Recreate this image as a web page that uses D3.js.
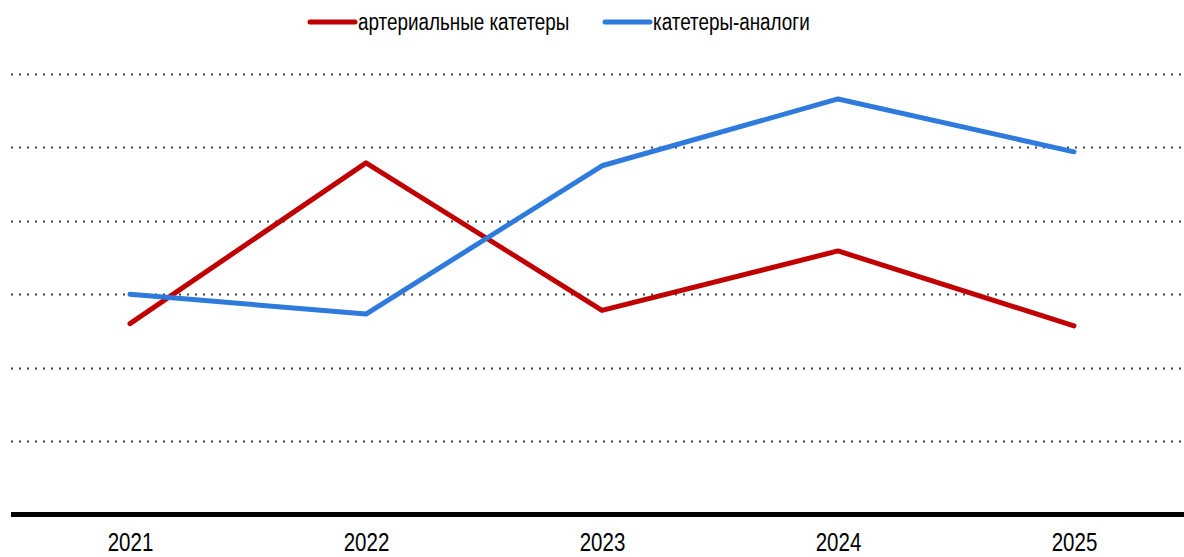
<!DOCTYPE html>
<html>
<head>
<meta charset="utf-8">
<script src="https://cdn.jsdelivr.net/npm/d3@7"></script>
<style>
  body { margin: 0; background: #fff; }
  svg { display: block; font-family: "Liberation Sans", Arial, sans-serif; }
</style>
</head>
<body>
<div id="chart"></div>
<script>
// chart data
var years = ["2021", "2022", "2023", "2024", "2025"];
var arterial = [2.6, 4.79, 2.78, 3.59, 2.57];
var analogs = [3.0, 2.73, 4.75, 5.66, 4.94];
var gridTicks = [1, 2, 3, 4, 5, 6];
var seriesNames = ["артериальные катетеры", "катетеры-аналоги"];
var seriesColors = ["#c00000", "#2e7bdd"];

var svgWidth = 1184;
var svgHeight = 557;
// no narrow font installed, so squeeze the text horizontally
var squeeze = 0.82;

var svg = d3.select("#chart").append("svg")
  .attr("width", svgWidth)
  .attr("height", svgHeight);

// scales
var x = d3.scalePoint()
  .domain(years)
  .range([12, 1192])
  .padding(0.5);

var y = d3.scaleLinear()
  .domain([0, 6])
  .range([514.5, 74]);

// dotted gridlines
svg.append("g")
  .selectAll("line")
  .data(gridTicks)
  .enter()
  .append("line")
  .attr("x1", 11)
  .attr("x2", 1184)
  .attr("y1", d => Math.round(y(d)) + 0.5)
  .attr("y2", d => Math.round(y(d)) + 0.5)
  .attr("stroke", "#444")
  .attr("stroke-width", 2)
  .attr("stroke-dasharray", "2 6");

// x axis
var xAxis = svg.append("g")
  .attr("transform", `translate(0, ${y(0)})`)
  .call(d3.axisBottom(x).tickSize(0));

xAxis.select(".domain")
  .attr("d", "M11,0H1184")
  .attr("stroke", "#000")
  .attr("stroke-width", 5);

xAxis.selectAll("text")
  .attr("y", 37)
  .attr("dy", null)
  .attr("transform", `scale(${squeeze},1)`)
  .attr("font-family", "'Liberation Sans', Arial, sans-serif")
  .attr("font-size", 25)
  .attr("fill", "#000");

// lines
var line = d3.line()
  .x((d, i) => x(years[i]))
  .y(d => y(d));

[arterial, analogs].forEach(function(values, i) {
  svg.append("path")
    .datum(values)
    .attr("d", line)
    .attr("fill", "none")
    .attr("stroke", seriesColors[i])
    .attr("stroke-width", 5)
    .attr("stroke-linecap", "round")
    .attr("stroke-linejoin", "round");
});

// legend
var legendX = [308, 603];
var legend = svg.append("g")
  .selectAll("g")
  .data(seriesNames)
  .enter()
  .append("g")
  .attr("transform", (d, i) => `translate(${legendX[i]}, 22)`);

legend.append("line")
  .attr("x1", 2)
  .attr("x2", 47)
  .attr("stroke", (d, i) => seriesColors[i])
  .attr("stroke-width", 5)
  .attr("stroke-linecap", "round");

legend.append("text")
  .attr("transform", `translate(50,0) scale(${squeeze},1)`)
  .attr("dy", "0.35em")
  .attr("font-size", 23)
  .attr("fill", "#000")
  .text(d => d);
</script>
</body>
</html>
